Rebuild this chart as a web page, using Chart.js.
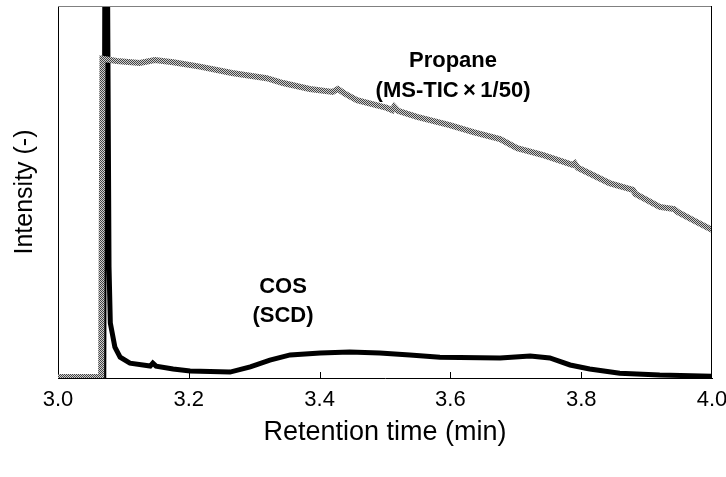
<!DOCTYPE html>
<html>
<head>
<meta charset="utf-8">
<script src="https://cdn.jsdelivr.net/npm/chart.js@4.4.1/dist/chart.umd.min.js"></script>
<style>
  body { margin: 0; background: #fff; }
  #wrap { width: 726px; height: 477px; }
</style>
</head>
<body>
<div id="wrap"><canvas id="canvas-1" width="726" height="477"></canvas></div>
<script>
// retention time (min) / intensity
var propaneTime = [3.000, 3.066, 3.068, 3.090, 3.125, 3.148, 3.176, 3.217, 3.266, 3.319, 3.344, 3.385,
    3.420, 3.428, 3.437, 3.457, 3.503, 3.511, 3.514, 3.520, 3.549, 3.599, 3.635, 3.676, 3.702, 3.742,
    3.787, 3.790, 3.795, 3.843, 3.879, 3.883, 3.920, 3.942, 3.948, 3.977, 4.000];
var propaneInt = [0.3, 0.3, 85.8, 85.2, 84.7, 85.5, 84.9, 83.7, 82.0, 80.6, 79.3, 77.7,
    76.9, 77.7, 76.6, 74.7, 72.6, 72.0, 72.9, 71.8, 70.2, 68.0, 66.1, 64.2, 61.8, 59.9,
    57.3, 57.7, 56.5, 52.4, 50.6, 49.5, 46.0, 45.4, 44.6, 41.9, 39.8];

var cosTime = [3.000, 3.066, 3.070, 3.073, 3.078, 3.080, 3.087, 3.095, 3.110, 3.141, 3.145, 3.150,
    3.176, 3.202, 3.263, 3.294, 3.324, 3.355, 3.401, 3.446, 3.492, 3.538, 3.584, 3.676, 3.722,
    3.752, 3.783, 3.813, 3.859, 3.920, 4.000];
var cosInt = [0.3, 0.3, 0.3, 200, 30, 14.8, 8.3, 5.6, 4.0, 3.2, 4.0, 3.2,
    2.4, 1.9, 1.6, 3.0, 4.8, 6.2, 6.7, 7.0, 6.7, 6.2, 5.6, 5.4, 5.9,
    5.4, 3.5, 2.4, 1.3, 0.8, 0.5];

var xTicks = [3.0, 3.2, 3.4, 3.6, 3.8, 4.0];

var toPoints = function (xs, ys) {
    var pts = [];
    for (var i = 0; i < xs.length; i++) {
        pts.push({ x: xs[i], y: ys[i] });
    }
    return pts;
};

var ctx = document.getElementById('canvas-1');

// checkered grey like the excel line pattern
var pc = document.createElement('canvas');
pc.width = 2; pc.height = 2;
var pctx = pc.getContext('2d');
pctx.fillStyle = '#cfcfcf';
pctx.fillRect(0, 0, 2, 2);
pctx.fillStyle = '#444444';
pctx.fillRect(0, 0, 1, 1);
pctx.fillRect(1, 1, 1, 1);
var hatch = ctx.getContext('2d').createPattern(pc, 'repeat');

var FONT = "'Liberation Sans', Arial, sans-serif";

// inward tick marks, frame and the two labels
var extras = {
    id: 'extras',
    afterDatasetsDraw: function (chart) {
        var c = chart.ctx, a = chart.chartArea;
        var xs = chart.scales.x, ys = chart.scales.y;
        c.save();
        c.lineWidth = 1;
        c.strokeStyle = '#000';
        for (var i = 1; i < xTicks.length - 1; i++) {
            var px = Math.round(xs.getPixelForValue(xTicks[i])) + 0.5;
            c.beginPath();
            c.moveTo(px, a.bottom);
            c.lineTo(px, a.bottom - 6);
            c.stroke();
        }
        c.strokeStyle = '#808080';
        c.beginPath();
        c.moveTo(a.left, a.top + 0.5);
        c.lineTo(a.right, a.top + 0.5);
        c.stroke();
        c.strokeStyle = '#000';
        c.beginPath();
        c.moveTo(a.right - 0.5, a.top);
        c.lineTo(a.right - 0.5, a.bottom);
        c.stroke();

        c.fillStyle = '#000';
        c.font = 'bold 22px ' + FONT;
        c.textAlign = 'center';
        c.textBaseline = 'alphabetic';
        c.fillText('Propane', xs.getPixelForValue(3.604), ys.getPixelForValue(83.6));
        c.fillText('(MS-TIC\u2009\u00d7\u20091/50)', xs.getPixelForValue(3.604), ys.getPixelForValue(75.6));
        c.fillText('COS', xs.getPixelForValue(3.344), ys.getPixelForValue(22.8));
        c.fillText('(SCD)', xs.getPixelForValue(3.344), ys.getPixelForValue(15.1));
        c.restore();
    }
};

var chart = new Chart(ctx, {
    type: 'line',
    data: {
        datasets: [
            {
                label: 'Propane (MS-TIC x 1/50)',
                data: toPoints(propaneTime, propaneInt),
                borderColor: hatch,
                borderWidth: 6,
                pointRadius: 0,
                tension: 0
            },
            {
                label: 'COS (SCD)',
                data: toPoints(cosTime, cosInt),
                borderColor: '#000',
                borderWidth: 5,
                pointRadius: 0,
                tension: 0
            }
        ]
    },
    options: {
        responsive: false,
        animation: false,
        devicePixelRatio: 1,
        layout: { padding: { top: 6, right: 14, left: 0, bottom: 0 } },
        plugins: {
            legend: { display: false },
            tooltip: { enabled: false }
        },
        scales: {
            x: {
                type: 'linear',
                min: 3,
                max: 4,
                afterBuildTicks: function (s) {
                    s.ticks = xTicks.map(function (v) { return { value: v }; });
                },
                afterFit: function (s) {
                    s.height = 99;
                    s.paddingLeft = 0;
                    s.paddingRight = 0;
                },
                grid: { display: false, drawTicks: false },
                border: { display: true, color: '#000', width: 1 },
                ticks: {
                    padding: 9,
                    color: '#000',
                    maxRotation: 0,
                    font: { family: FONT, size: 22 },
                    callback: function (v) { return Number(v).toFixed(1); }
                },
                title: {
                    display: true,
                    text: 'Retention time (min)',
                    color: '#000',
                    font: { family: FONT, size: 27 },
                    padding: { top: 0, bottom: 28 }
                }
            },
            y: {
                min: 0,
                max: 100,
                afterFit: function (s) { s.width = 58; },
                grid: { display: false, drawTicks: false },
                border: { display: true, color: '#000', width: 1 },
                ticks: { display: false },
                title: {
                    display: true,
                    text: 'Intensity (-)',
                    color: '#000',
                    font: { family: FONT, size: 25 },
                    padding: { top: 10, bottom: 0 }
                }
            }
        }
    },
    plugins: [extras]
});
</script>
</body>
</html>
